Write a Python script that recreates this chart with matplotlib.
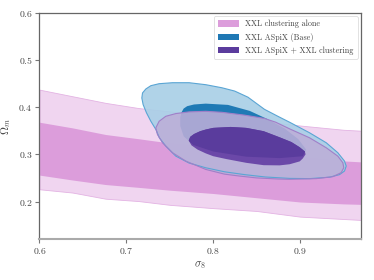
import matplotlib
matplotlib.use("Agg")
import matplotlib.pyplot as plt
from matplotlib.patches import Polygon, Patch

plt.rcParams['font.family'] = 'serif'
plt.rcParams['font.serif'] = ['cmr10']
plt.rcParams['mathtext.fontset'] = 'cm'
plt.rcParams['axes.formatter.use_mathtext'] = True

# XXL clustering alone: 1 and 2 sigma bands
s8_band = [0.60, 0.638, 0.676, 0.714, 0.75, 0.80, 0.85, 0.90, 0.95, 0.97]
outer_hi = [0.437, 0.423, 0.409, 0.398, 0.391, 0.381, 0.371, 0.361, 0.352, 0.350]
inner_hi = [0.368, 0.356, 0.342, 0.333, 0.324, 0.315, 0.305, 0.295, 0.286, 0.284]
inner_lo = [0.256, 0.2456, 0.236, 0.230, 0.224, 0.217, 0.208, 0.199, 0.195, 0.194]
outer_lo = [0.226, 0.219, 0.206, 0.201, 0.193, 0.186, 0.180, 0.168, 0.163, 0.161]

# XXL ASpiX (Base) contours
aspix2_s8 = [0.7178, 0.7186, 0.7224, 0.7282, 0.7377, 0.7531, 0.7722, 0.7914, 0.810, 0.8247,
             0.840, 0.859, 0.875, 0.8879, 0.9109, 0.9301, 0.9434, 0.9511, 0.9531, 0.9511,
             0.9454, 0.9339, 0.9109, 0.8879, 0.860, 0.836, 0.813, 0.7914, 0.7722, 0.7569,
             0.7454, 0.738, 0.734, 0.7282, 0.7232, 0.7193]
aspix2_om = [0.4194, 0.430, 0.4384, 0.4454, 0.4496, 0.4517, 0.4517, 0.4475, 0.441, 0.434,
             0.421, 0.3953, 0.380, 0.368, 0.3456, 0.3245, 0.3034, 0.2857, 0.2751, 0.2646,
             0.257, 0.2515, 0.2485, 0.249, 0.252, 0.257, 0.263, 0.2715, 0.2815, 0.2962,
             0.3173, 0.335, 0.3525, 0.370, 0.3878, 0.4053]
aspix1_s8 = [0.7635, 0.7660, 0.7700, 0.7779, 0.7914, 0.817, 0.842, 0.862, 0.882, 0.898,
             0.907, 0.903, 0.8765, 0.838, 0.800, 0.777, 0.766, 0.762, 0.7620]
aspix1_om = [0.3890, 0.3970, 0.4020, 0.4056, 0.4074, 0.4047, 0.392, 0.375, 0.355, 0.332,
             0.310, 0.296, 0.292, 0.295, 0.306, 0.320, 0.338, 0.360, 0.378]

# XXL ASpiX + XXL clustering contours
comb2_s8 = [0.7339, 0.7377, 0.7454, 0.7569, 0.7722, 0.7914, 0.810, 0.836, 0.859, 0.872,
            0.8879, 0.9109, 0.9301, 0.9434, 0.9492, 0.9503, 0.9473, 0.9377, 0.9186, 0.8879,
            0.8745, 0.850, 0.830, 0.813, 0.7914, 0.7684, 0.7531, 0.7416, 0.7358]
comb2_om = [0.356, 0.370, 0.3806, 0.3863, 0.3899, 0.3911, 0.389, 0.383, 0.376, 0.368,
            0.354, 0.335, 0.3139, 0.2962, 0.2822, 0.2717, 0.2612, 0.2527, 0.2485, 0.2471,
            0.2477, 0.250, 0.254, 0.258, 0.268, 0.2857, 0.3034, 0.3245, 0.342]
comb1_s8 = [0.7718, 0.7735, 0.7779, 0.7850, 0.7914, 0.800, 0.820, 0.838, 0.858, 0.8765,
            0.8900, 0.8995, 0.9055, 0.9063, 0.9030, 0.8995, 0.8880, 0.8765, 0.858, 0.838,
            0.815, 0.800, 0.7914, 0.7820, 0.7750]
comb1_om = [0.3290, 0.3370, 0.3430, 0.3490, 0.3525, 0.3560, 0.3580, 0.3560, 0.3490, 0.3360,
            0.3260, 0.3150, 0.3060, 0.3000, 0.2910, 0.2850, 0.2790, 0.2766, 0.2770, 0.2820,
            0.2900, 0.2960, 0.3020, 0.3100, 0.3190]

labels = ['XXL clustering alone', 'XXL ASpiX (Base)', 'XXL ASpiX + XXL clustering']

fig = plt.figure(figsize=(3.74, 2.8), dpi=100)
ax = fig.add_axes([0.1056, 0.1454, 0.8594, 0.8092])

ax.fill_between(s8_band, outer_lo, outer_hi, color='#f0d5f0', edgecolor='#e3b3e3', lw=0.6, zorder=1)
ax.fill_between(s8_band, inner_lo, inner_hi, color='#dc9ddb', lw=0, zorder=2)

ax.fill(aspix2_s8, aspix2_om, facecolor='#a8cfe6', alpha=0.9, edgecolor='none', zorder=3)
ax.fill(aspix1_s8, aspix1_om, facecolor='#1f7ab5', edgecolor='none', zorder=4)
ax.fill(comb2_s8, comb2_om, facecolor='#bcaed8', alpha=0.88, edgecolor='none', zorder=5)
inner = ax.fill(comb1_s8, comb1_om, facecolor='#6b48a8', edgecolor='none', zorder=6)[0]
# darker where the ASpiX 1 sigma region lies underneath
over = Polygon(list(zip(aspix1_s8, aspix1_om)), closed=True, facecolor='#5a3c9d',
               edgecolor='none', zorder=7)
ax.add_patch(over)
over.set_clip_path(inner)
ax.fill(aspix2_s8, aspix2_om, facecolor='none', edgecolor='#5aa5d4', lw=0.8,
        joinstyle='round', zorder=8)
ax.fill(comb2_s8, comb2_om, facecolor='none', edgecolor='#a07fc8', lw=0.8,
        joinstyle='round', zorder=8)

ax.set_xlim(0.6, 0.97)
ax.set_ylim(0.12, 0.6)
ax.set_xticks([0.6, 0.7, 0.8, 0.9])
ax.set_yticks([0.2, 0.3, 0.4, 0.5, 0.6])
ax.tick_params(direction='out', length=3, width=0.8, color='#777777',
               labelsize=7, labelcolor='#444444', pad=2)
for side in ['left', 'top', 'right']:
    ax.spines[side].set_color('#666666')
    ax.spines[side].set_linewidth(0.9)
ax.spines['bottom'].set_color('#aaaaaa')
ax.spines['bottom'].set_linewidth(1.5)

ax.set_xlabel(r'$\sigma_8$', fontsize=8, color='#444444', labelpad=2)
ax.set_ylabel(r'$\Omega_m$', fontsize=8, color='#444444', labelpad=4)

handles = [Patch(facecolor='#dc9ddb'), Patch(facecolor='#1f78b4'), Patch(facecolor='#5b3c9d')]
leg = ax.legend(handles, labels, loc='upper right', fontsize=5.8, frameon=True,
                fancybox=True, borderaxespad=0.4, handlelength=2.6, handleheight=0.9,
                labelspacing=0.55, borderpad=0.5, framealpha=1)
leg.get_frame().set_edgecolor('#dddddd')
leg.get_frame().set_linewidth(0.6)
for t in leg.get_texts():
    t.set_color('#444444')

fig.savefig('out.png', dpi=100)
